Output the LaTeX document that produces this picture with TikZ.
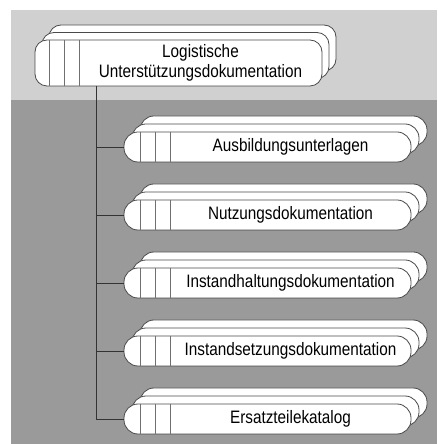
\documentclass[tikz,border=0pt]{standalone}
\usepackage{fontspec}
\setmainfont{Liberation Sans}[FakeStretch=0.85]
\usetikzlibrary{calc}
\definecolor{lightbg}{HTML}{D0D0D0}
\definecolor{darkbg}{HTML}{9A9A9A}
\definecolor{edge}{HTML}{4A4A4A}
\definecolor{divc}{HTML}{707070}
\tikzset{
  x=1pt, y=1pt,
  layer/.style={draw=edge, fill=white, line width=0.8pt, rounded corners=14pt,
    minimum width=287pt, minimum height=30pt, inner sep=0pt, outer sep=0pt},
  toplayer/.style={layer, rounded corners=12pt, minimum height=46pt},
  divline/.style={draw=divc, line width=0.6pt},
  conn/.style={draw=black!80, line width=0.7pt},
  lbl/.style={inner sep=0pt, font=\fontsize{18}{19.5}\selectfont, align=center, text=black}
}
\begin{document}
\begin{tikzpicture}
\useasboundingbox (0,0) rectangle (437,444);
\fill[lightbg] (11,344) rectangle (437,434);
\fill[darkbg] (11,0) rectangle (437,344);

% top box
\node[toplayer] (top3) at (192.5,396) {};
\node[toplayer] (top2) at (185.5,388.5) {};
\node[toplayer] (top) at (178.5,381) {};
\foreach \d in {14,29,44}
  \draw[divline] ([xshift=\d pt]top.north west) -- ([xshift=\d pt]top.south west);
\node[lbl] (toptext) at (200.5,381) {Logistische\\Unterstützungsdokumentation};

\coordinate (trunkend) at (96,25);
\draw[conn] (top.south -| trunkend) -- (trunkend);

% children
\foreach \n/\yc/\t in {c1/297/Ausbildungsunterlagen,
                      c2/229/Nutzungsdokumentation,
                      c3/161/Instandhaltungsdokumentation,
                      c4/93/Instandsetzungsdokumentation,
                      c5/25/Ersatzteilekatalog}{
  \node[layer] (\n-3) at (283.5,\yc+16) {};
  \node[layer] (\n-2) at (275.5,\yc+8) {};
  \node[layer] (\n) at (267.5,\yc) {};
  \foreach \d in {16,31,46}
    \draw[divline] ([xshift=\d pt]\n.north west) -- ([xshift=\d pt]\n.south west);
  \node[lbl] (\n-text) at (290.5,\yc) {\t};
  \draw[conn] (\n.west -| trunkend) -- (\n.west);
}
\end{tikzpicture}
\end{document}
